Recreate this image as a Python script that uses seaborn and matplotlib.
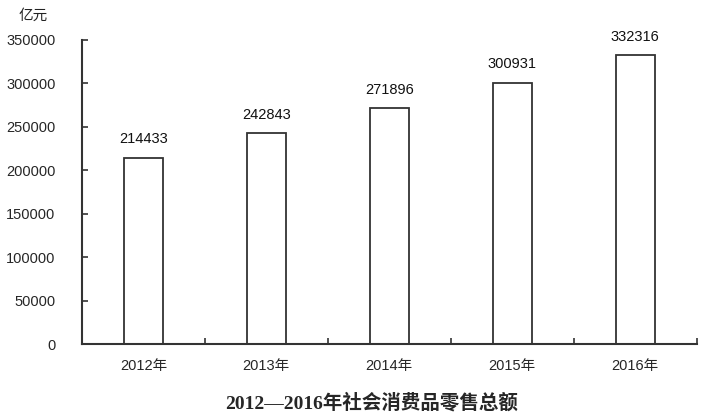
import pandas as pd
import matplotlib
matplotlib.use("Agg")
import matplotlib.pyplot as plt
import seaborn as sns

years = ["2012年", "2013年", "2014年", "2015年", "2016年"]
sales = [214433, 242843, 271896, 300931, 332316]
yticks = [0, 50000, 100000, 150000, 200000, 250000, 300000, 350000]

df = pd.DataFrame({"year": years, "sales": sales})

sns.set_style("white")
plt.rcParams["font.family"] = ["Liberation Sans", "Noto Sans CJK SC"]

fig = plt.figure(figsize=(7.06, 4.16), dpi=100)
ax = fig.add_axes([0.116, 0.173, 0.871, 0.731])

sns.barplot(
    data=df,
    x="year",
    y="sales",
    color="white",
    edgecolor="#333333",
    linewidth=1.3,
    width=0.32,
    ax=ax,
)

# value labels above the bars
for i, v in enumerate(sales):
    ax.text(i, v + 13000, str(v), ha="center", va="bottom", fontsize=10.5, color="#111111")

ax.set_xlim(-0.5, 4.5)
ax.set_ylim(0, 350000)
ax.set_yticks(yticks)
ax.set_yticklabels([str(t) for t in yticks], fontsize=10.5)
ax.set_xticks(range(len(years)))
ax.set_xticklabels(years, fontsize=10.5)
ax.set_xticks([i - 0.5 for i in range(len(years) + 1)], minor=True)
ax.tick_params(axis="x", which="major", bottom=False, length=0, pad=11)
ax.tick_params(axis="x", which="minor", bottom=True, direction="in", length=4,
               color="#333333", width=1.2)
ax.tick_params(axis="y", left=True, direction="in", length=4, color="#333333",
               width=1.2, pad=19)

ax.set_xlabel("")
ax.set_ylabel("")
for s in ["top", "right"]:
    ax.spines[s].set_visible(False)
for s in ["left", "bottom"]:
    ax.spines[s].set_color("#333333")
    ax.spines[s].set_linewidth(1.5)

fig.text(0.047, 0.962, "亿元", ha="center", va="center", fontsize=10.5, color="#222222")
fig.text(0.527, 0.033, "2012—2016年社会消费品零售总额", ha="center", va="center",
         fontsize=14, fontweight="bold", family=["Liberation Serif", "Noto Sans CJK SC"])

fig.savefig("out.png", dpi=100)
